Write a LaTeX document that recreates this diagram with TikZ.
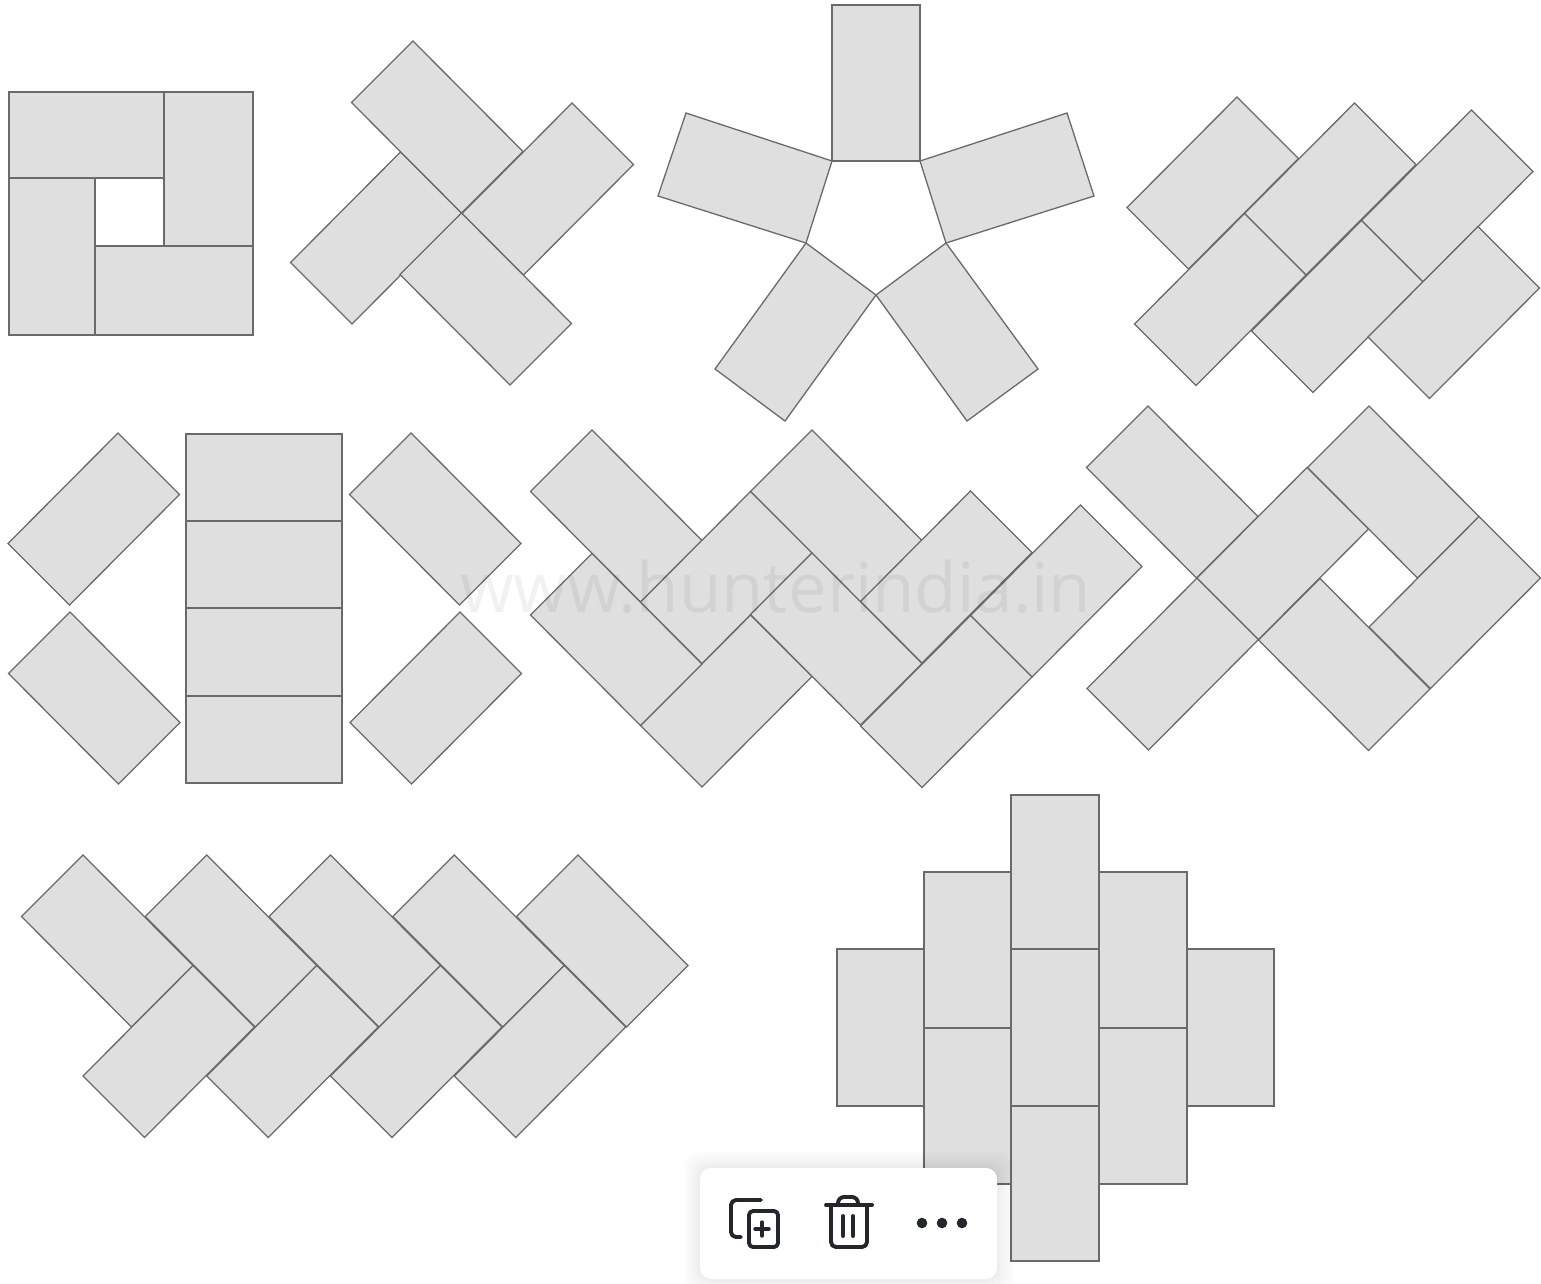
\documentclass[tikz,border=0pt]{standalone}
\usepackage{fontspec}
\setmainfont{Open Sans}
\definecolor{brickfill}{HTML}{DFDFDF}
\definecolor{brickline}{HTML}{6A6A6A}
\definecolor{iconink}{HTML}{23272B}
\tikzset{
  brick/.style={draw=brickline,fill=brickfill,line width=1.3pt,line join=miter},
  iconline/.style={draw=iconink,line width=3.9pt,line cap=round,line join=round},
  iconplus/.style={draw=iconink,line width=3.4pt,line cap=round},
  icondot/.style={fill=iconink,draw=none},
  softshadow/.style={fill=black,fill opacity=0.012,draw=none,rounded corners=14pt},
  toolbar/.style={fill=white,draw=none,rounded corners=11pt},
  watermark/.style={text=black,text opacity=0.055,inner sep=0pt,anchor=base west}
}
\newcommand\brk[4]{\draw[brick] (#1) -- (#2) -- (#3) -- (#4) -- cycle;}
\newcommand\rct[2]{\draw[brick] (#1) rectangle (#2);}
% diagonal brick given by its top corner: long side running down-right
\newcommand\brkD[2]{\draw[brick] (#1,#2) -- ++(110,110.5) -- ++(-61.5,61.5) -- ++(-110,-110.5) -- cycle;}
% diagonal brick given by its top corner: long side running down-left
\newcommand\brkU[2]{\draw[brick] (#1,#2) -- ++(61.5,61.5) -- ++(-110,110.5) -- ++(-61.5,-61.5) -- cycle;}
\begin{document}
\begin{tikzpicture}[x=1pt,y=-1pt]
\useasboundingbox (0,0) rectangle (1541,1283);
\fill[white] (0,0) rectangle (1541,1283);
% group 1: square ring
\rct{9,92}{164,178}
\rct{164,92}{253,246}
\rct{9,178}{95,335}
\rct{95,246}{253,335}
% group 2: pinwheel
\brkU{572}{103}
\brkU{400.5}{152}
\brkD{461.5}{213}
\brkD{413}{41}
% group 3: pentagon
\rct{832,5}{920,161}
\brk{686,113}{832,161}{806,243}{658,196}
\brk{920,161}{1067,113}{1094,196}{946,243}
\brk{806,243}{876,295}{785,421}{715,369}
\brk{876,295}{946,243}{1038,369}{967,421}
% group 4: six diagonal bricks
\brkU{1237}{97}
\brkU{1354.5}{103}
\brkU{1471.5}{110}
\brkU{1244.5}{213.5}
\brkU{1361.5}{220.5}
\brkU{1478}{226.5}
% group 5: column with four side bricks
\brkU{118}{433}
\brkD{70}{612}
\brkD{411}{433}
\brkU{460}{612}
\rct{186,434}{342,521}
\rct{186,521}{342,608}
\rct{186,608}{342,696}
\rct{186,696}{342,783}
% group 6: herringbone
\brkD{592}{430}
\brkD{812}{430}
\brkU{970.5}{491}
\brkU{1080.5}{505}
\brkU{750.5}{615}
\brkU{970.5}{615.5}
\brkD{592}{553.5}
\brkU{750.5}{491.5}
\brkD{812}{553}
% group 7: six bricks round a square hole
\brkD{1148}{406}
\brkD{1369}{406}
\brkU{1479}{516.5}
\brkU{1197}{578}
\brkD{1320}{578.5}
\brkU{1307}{467.5}
% group 8: long herringbone
\foreach \tx in {83,206.75,330.5,454.25,578}{\brkD{\tx}{855}}
\foreach \tx in {193,316.75,440.5,564.25}{\brkU{\tx}{965.5}}
% group 9: stepped columns
\rct{837,949}{924,1106}
\rct{1187,949}{1274,1106}
\rct{924,872}{1011,1028}
\rct{924,1028}{1011,1184}
\rct{1099,872}{1187,1028}
\rct{1099,1028}{1187,1184}
\rct{1011,795}{1099,949}
\rct{1011,949}{1099,1106}
\rct{1011,1106}{1099,1261}
% watermark
\node[watermark,font=\fontsize{69}{80}\selectfont] (mark) at (460,612) {www.hunterindia.in};
% toolbar
\foreach \g in {16,13,10,7,4,2}{
  \fill[softshadow] (700-\g,1168-\g) rectangle (997+\g,1279+\g);
}
\fill[toolbar] (700,1168) rectangle (997,1279);
% copy icon
\draw[iconline,rounded corners=5pt] (761,1200) -- (731,1200) -- (731,1237) -- (741,1237);
\draw[iconline,rounded corners=4pt] (749,1211) rectangle (778,1247);
\draw[iconplus] (755,1229) -- (769,1229);
\draw[iconplus] (762,1222) -- (762,1236);
% trash icon
\draw[iconline] (826,1205) -- (872,1205);
\draw[iconline,rounded corners=6pt] (838,1205) -- (838,1197) -- (858,1197) -- (858,1205);
\draw[iconline,rounded corners=5pt] (831,1206) -- (831,1247) -- (867,1247) -- (867,1206);
\draw[iconline] (843,1216) -- (843,1236);
\draw[iconline] (853,1216) -- (853,1236);
% more icon
\fill[icondot] (922,1223) circle[radius=5.3];
\fill[icondot] (942,1223) circle[radius=5.3];
\fill[icondot] (962,1223) circle[radius=5.3];
\end{tikzpicture}
\end{document}
